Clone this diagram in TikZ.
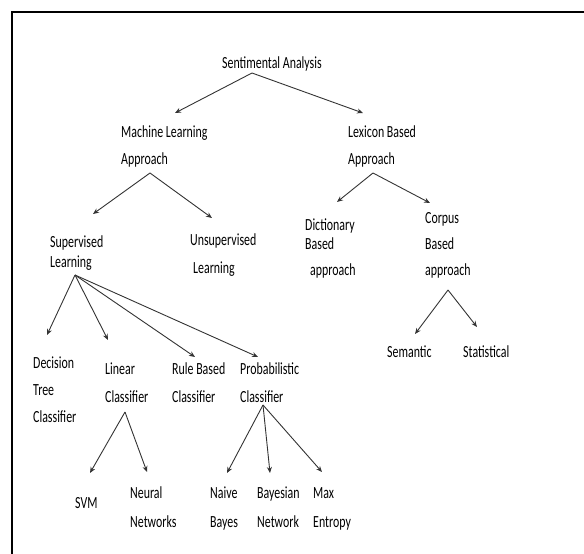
\documentclass[tikz,border=0pt]{standalone}
\usepackage{fontspec}
\setmainfont{Carlito}[FakeStretch=0.7]
\usetikzlibrary{arrows.meta}
\newcommand\mylines[2][27pt]{\vtop{\baselineskip=#1\lineskiplimit=-20pt\halign{##\hfil\cr #2\crcr}}}
\begin{document}
\begin{tikzpicture}[x=1pt,y=-1pt,
  lbl/.style={anchor=base west,inner sep=0pt,text=black,font=\fontsize{17}{27}\selectfont},
  arr/.style={draw=black!80,line width=0.9pt,-{Stealth[length=6pt,width=5pt]}}]
\useasboundingbox (0,0) rectangle (584,554);
\draw[line width=1.6pt] (584,12) -- (12,12) -- (12,554);
% nodes
\node[lbl] (sa) at (222,68) {Sentimental Analysis};
\node[lbl] (ml) at (121,137) {\mylines{Machine Learning\cr Approach}};
\node[lbl] (lb) at (348,137) {\mylines{Lexicon Based\cr Approach}};
\node[lbl] (sup) at (50,247) {\mylines[20pt]{Supervised\cr Learning}};
\node[lbl] (unsup) at (190,245) {\mylines[28pt]{Unsupervised\cr \kern3pt Learning}};
\node[lbl] (dict) at (305,230) {\vtop{\baselineskip=19pt\lineskiplimit=-20pt\halign{#\hfil\cr Dictionary\cr Based\cr\noalign{\vskip7pt}\kern5pt approach\crcr}}};
\node[lbl] (corpus) at (425,223) {\mylines[26pt]{Corpus\cr Based\cr approach}};
\node[lbl] (sem) at (387,357) {Semantic};
\node[lbl] (stat) at (463,357) {Statistical};
\node[lbl] (dec) at (33,368) {\mylines[27pt]{Decision\cr Tree\cr Classifier}};
\node[lbl] (lin) at (105,374) {\mylines[28pt]{Linear\cr Classifier}};
\node[lbl] (rule) at (172,374) {\mylines[28pt]{Rule Based\cr Classifier}};
\node[lbl] (prob) at (240,374) {\mylines[28pt]{Probabilistic\cr Classifier}};
\node[lbl] (svm) at (75,508) {SVM};
\node[lbl] (neural) at (130,498) {\mylines[29pt]{Neural\cr Networks}};
\node[lbl] (naive) at (210,498) {\mylines[29pt]{Naive\cr Bayes}};
\node[lbl] (bayes) at (257,498) {\mylines[29pt]{Bayesian\cr Network}};
\node[lbl] (max) at (313,498) {\mylines[29pt]{Max\cr Entropy}};
% connectors
\draw[arr] ([shift={(30,5)}]sa.base west) -- ([shift={(54,-24)}]ml.base west);
\draw[arr] ([shift={(30,5)}]sa.base west) -- ([shift={(15,-24)}]lb.base west);
\draw[arr] ([shift={(29,36)}]ml.base west) -- ([shift={(43,-33)}]sup.base west);
\draw[arr] ([shift={(29,36)}]ml.base west) -- ([shift={(22,-27)}]unsup.base west);
\draw[arr] ([shift={(25,36)}]lb.base west) -- ([shift={(32,-28)}]dict.base west);
\draw[arr] ([shift={(25,36)}]lb.base west) -- ([shift={(5,-20)}]corpus.base west);
\draw[arr] ([shift={(23,67)}]corpus.base west) -- ([shift={(28,-23)}]sem.base west);
\draw[arr] ([shift={(23,67)}]corpus.base west) -- ([shift={(14,-30)}]stat.base west);
\draw[arr] ([shift={(25,28)}]sup.base west) -- ([shift={(14,-33)}]dec.base west);
\draw[arr] ([shift={(25,28)}]sup.base west) -- ([shift={(3,-34)}]lin.base west);
\draw[arr] ([shift={(25,28)}]sup.base west) -- ([shift={(23,-17)}]rule.base west);
\draw[arr] ([shift={(25,28)}]sup.base west) -- ([shift={(18,-17)}]prob.base west);
\draw[arr] ([shift={(20,38)}]lin.base west) -- ([shift={(15,-35)}]svm.base west);
\draw[arr] ([shift={(20,38)}]lin.base west) -- ([shift={(17,-26)}]neural.base west);
\draw[arr] ([shift={(23,31)}]prob.base west) -- ([shift={(17,-25)}]naive.base west);
\draw[arr] ([shift={(23,31)}]prob.base west) -- ([shift={(13,-25)}]bayes.base west);
\draw[arr] ([shift={(23,31)}]prob.base west) -- ([shift={(9,-26)}]max.base west);
\end{tikzpicture}
\end{document}
